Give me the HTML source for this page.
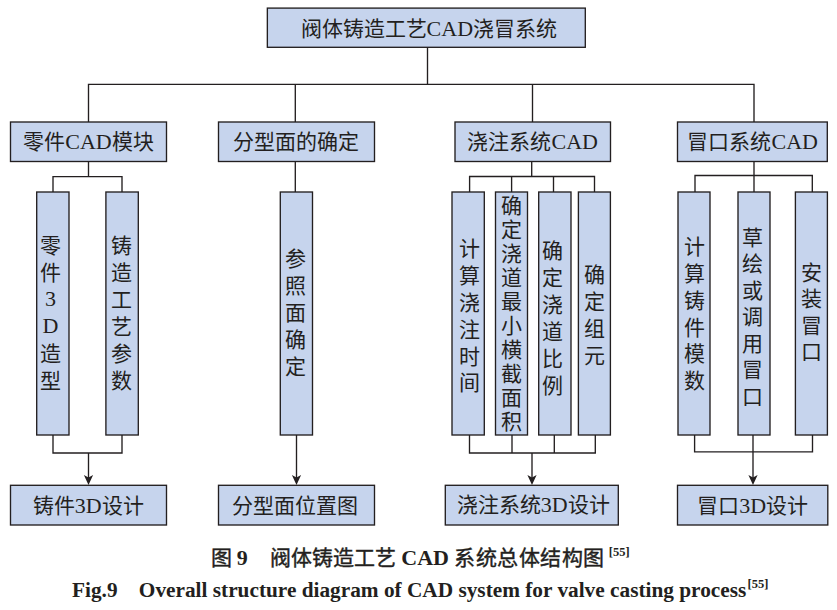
<!DOCTYPE html>
<html lang="zh-CN">
<head>
<meta charset="utf-8">
<title>阀体铸造工艺CAD系统总体结构图</title>
<style>
html,body{margin:0;padding:0;background:#fff;}
#wrap{position:relative;width:837px;height:610px;overflow:hidden;background:#fff;font-family:"Liberation Serif",serif;color:#231f20;font-weight:300;}
.bg{position:absolute;left:0;top:0;}
.h{position:absolute;width:300px;height:30px;line-height:30px;text-align:center;white-space:nowrap;}
.v{position:absolute;width:40px;text-align:center;}
.v span{display:block;}
.l{font-size:22px;}
.v .l{position:relative;top:-1.3px;}
.cap{position:absolute;white-space:pre;font-weight:bold;}
.b{font-weight:bold;-webkit-text-stroke:0;}
</style>
</head>
<body>
<div id="wrap">
<svg class="bg" width="837" height="610" viewBox="0 0 837 610"><rect x="267.35" y="8.1" width="317.95" height="39.20" fill="#c6d4ed" stroke="#231f20" stroke-width="1.35"/><path d="M427.5,47.3 L427.5,84.4" fill="none" stroke="#231f20" stroke-width="1.35"/><path d="M88.5,122 L88.5,84.4 L754,84.4 L754,122" fill="none" stroke="#231f20" stroke-width="1.35"/><path d="M295.3,84.4 L295.3,122" fill="none" stroke="#231f20" stroke-width="1.35"/><path d="M532.5,84.4 L532.5,122" fill="none" stroke="#231f20" stroke-width="1.35"/><rect x="10.5" y="122" width="156.00" height="39.50" fill="#c6d4ed" stroke="#231f20" stroke-width="1.35"/><path d="M88.5,161.5 L88.5,176.6" fill="none" stroke="#231f20" stroke-width="1.35"/><path d="M53,192 L53,176.6 L122,176.6 L122,192" fill="none" stroke="#231f20" stroke-width="1.35"/><rect x="36.7" y="192" width="32.30" height="243.00" fill="#c6d4ed" stroke="#231f20" stroke-width="1.35"/><rect x="105.9" y="192" width="32.40" height="243.00" fill="#c6d4ed" stroke="#231f20" stroke-width="1.35"/><path d="M53,435.0 L53,453 L122,453 L122,435.0" fill="none" stroke="#231f20" stroke-width="1.35"/><path d="M88.5,453 L88.5,478" fill="none" stroke="#231f20" stroke-width="1.35"/><path d="M88.5,485 L83.9,475 L88.5,477.4 L93.1,475 Z" fill="#231f20"/><rect x="10.5" y="485.3" width="156.00" height="39.70" fill="#c6d4ed" stroke="#231f20" stroke-width="1.35"/><rect x="218.5" y="122" width="156.00" height="39.50" fill="#c6d4ed" stroke="#231f20" stroke-width="1.35"/><path d="M295.3,161.5 L295.3,192" fill="none" stroke="#231f20" stroke-width="1.35"/><rect x="280.3" y="192" width="32.20" height="243.00" fill="#c6d4ed" stroke="#231f20" stroke-width="1.35"/><path d="M296.5,435.0 L296.5,478" fill="none" stroke="#231f20" stroke-width="1.35"/><path d="M296.5,485 L291.9,475 L296.5,477.4 L301.1,475 Z" fill="#231f20"/><rect x="218.5" y="485.3" width="156.00" height="39.70" fill="#c6d4ed" stroke="#231f20" stroke-width="1.35"/><rect x="455" y="122" width="155.50" height="39.50" fill="#c6d4ed" stroke="#231f20" stroke-width="1.35"/><path d="M531.7,161.5 L531.7,176.5" fill="none" stroke="#231f20" stroke-width="1.35"/><path d="M469.6,192 L469.6,176.5 L594.5,176.5 L594.5,192" fill="none" stroke="#231f20" stroke-width="1.35"/><path d="M511.6,176.5 L511.6,192" fill="none" stroke="#231f20" stroke-width="1.35"/><path d="M553.5,176.5 L553.5,192" fill="none" stroke="#231f20" stroke-width="1.35"/><rect x="452.0" y="192" width="32.30" height="243.00" fill="#c6d4ed" stroke="#231f20" stroke-width="1.35"/><rect x="495.5" y="192" width="32.00" height="243.00" fill="#c6d4ed" stroke="#231f20" stroke-width="1.35"/><rect x="538.7" y="192" width="32.30" height="243.00" fill="#c6d4ed" stroke="#231f20" stroke-width="1.35"/><rect x="578.4" y="192" width="32.00" height="243.00" fill="#c6d4ed" stroke="#231f20" stroke-width="1.35"/><path d="M469.5,435.0 L469.5,453 L595.3,453 L595.3,435.0" fill="none" stroke="#231f20" stroke-width="1.35"/><path d="M512,435.0 L512,453" fill="none" stroke="#231f20" stroke-width="1.35"/><path d="M554.3,435.0 L554.3,453" fill="none" stroke="#231f20" stroke-width="1.35"/><path d="M532,453 L532,478" fill="none" stroke="#231f20" stroke-width="1.35"/><path d="M532,485 L527.4,475 L532,477.4 L536.6,475 Z" fill="#231f20"/><rect x="445.3" y="485.3" width="173.00" height="39.70" fill="#c6d4ed" stroke="#231f20" stroke-width="1.35"/><rect x="677.5" y="122" width="149.80" height="39.50" fill="#c6d4ed" stroke="#231f20" stroke-width="1.35"/><path d="M754,161.5 L754,192" fill="none" stroke="#231f20" stroke-width="1.35"/><path d="M695,192 L695,175.5 L812.3,175.5 L812.3,192" fill="none" stroke="#231f20" stroke-width="1.35"/><rect x="678" y="192" width="32.00" height="243.00" fill="#c6d4ed" stroke="#231f20" stroke-width="1.35"/><rect x="738" y="192" width="32.00" height="243.00" fill="#c6d4ed" stroke="#231f20" stroke-width="1.35"/><rect x="795.4" y="192" width="32.00" height="243.00" fill="#c6d4ed" stroke="#231f20" stroke-width="1.35"/><path d="M694.6,435.0 L694.6,451.8 L812.5,451.8 L812.5,435.0" fill="none" stroke="#231f20" stroke-width="1.35"/><path d="M753,435.0 L753,478" fill="none" stroke="#231f20" stroke-width="1.35"/><path d="M753,485 L748.4,475 L753,477.4 L757.6,475 Z" fill="#231f20"/><rect x="677.5" y="485.3" width="150.30" height="39.70" fill="#c6d4ed" stroke="#231f20" stroke-width="1.35"/></svg>
<div class="h " style="left:278.825px;top:14px;font-size:21px">阀体铸造工艺<span class="l">CAD</span>浇冒系统</div><div class="h " style="left:-61.5px;top:127.19999999999999px;font-size:21px">零件<span class="l">CAD</span>模块</div><div class="v" style="left:30.5px;top:233.45px;line-height:26.9px;font-size:21px"><span>零</span><span>件</span><span class=l>3</span><span class=l>D</span><span>造</span><span>型</span></div><div class="v" style="left:101.1px;top:233.25px;line-height:26.9px;font-size:21px"><span>铸</span><span>造</span><span>工</span><span>艺</span><span>参</span><span>数</span></div><div class="h " style="left:-61.8px;top:490.5px;font-size:21px">铸件<span class="l">3D</span>设计</div><div class="h " style="left:145.5px;top:127.19999999999999px;font-size:21px">分型面的确定</div><div class="v" style="left:275.59999999999997px;top:246.25px;line-height:26.9px;font-size:21px"><span>参</span><span>照</span><span>面</span><span>确</span><span>定</span></div><div class="h " style="left:145.0px;top:490.5px;font-size:21px">分型面位置图</div><div class="h " style="left:382.70000000000005px;top:127.19999999999999px;font-size:21px">浇注系统<span class="l">CAD</span></div><div class="v" style="left:449.7px;top:235.95px;line-height:26.9px;font-size:21px"><span>计</span><span>算</span><span>浇</span><span>注</span><span>时</span><span>间</span></div><div class="v" style="left:491.2px;top:193.57px;line-height:24.05px;font-size:21px"><span>确</span><span>定</span><span>浇</span><span>道</span><span>最</span><span>小</span><span>横</span><span>截</span><span>面</span><span>积</span></div><div class="v" style="left:532.9px;top:238.35px;line-height:26.9px;font-size:21px"><span>确</span><span>定</span><span>浇</span><span>道</span><span>比</span><span>例</span></div><div class="v" style="left:574.1999999999999px;top:262.35px;line-height:26.9px;font-size:21px"><span>确</span><span>定</span><span>组</span><span>元</span></div><div class="h " style="left:383.29999999999995px;top:489.8px;font-size:21px">浇注系统<span class="l">3D</span>设计</div><div class="h " style="left:602.7px;top:127.19999999999999px;font-size:21px">冒口系统<span class="l">CAD</span></div><div class="v" style="left:674px;top:234.45px;line-height:26.7px;font-size:21px"><span>计</span><span>算</span><span>铸</span><span>件</span><span>模</span><span>数</span></div><div class="v" style="left:732px;top:224.85px;line-height:26.5px;font-size:21px"><span>草</span><span>绘</span><span>或</span><span>调</span><span>用</span><span>冒</span><span>口</span></div><div class="v" style="left:791.4px;top:259.60px;line-height:26.6px;font-size:21px"><span>安</span><span>装</span><span>冒</span><span>口</span></div><div class="h " style="left:602.7px;top:490.5px;font-size:21px">冒口<span class="l">3D</span>设计</div>
<div class="cap" style="left:210.5px;top:544px;font-size:21px;line-height:28px;font-weight:400;-webkit-text-stroke:0.4px #231f20">图 <span class="l b">9</span><span style="display:inline-block;width:22px"></span>阀体铸造工艺<span class="l b"> CAD </span><span style="letter-spacing:0.45px">系统总体结构图</span> <sup class="b" style="font-size:12.5px;margin-left:-1px;vertical-align:0;position:relative;top:-9px">[55]</sup></div>
<div class="cap" style="left:72px;top:577px;font-size:21.3px;line-height:26px">Fig.9    Overall structure diagram of CAD system for valve casting process<sup style="font-size:12.5px;vertical-align:0;position:relative;top:-9.5px;left:1.2px">[55]</sup></div>
</div>
</body>
</html>
